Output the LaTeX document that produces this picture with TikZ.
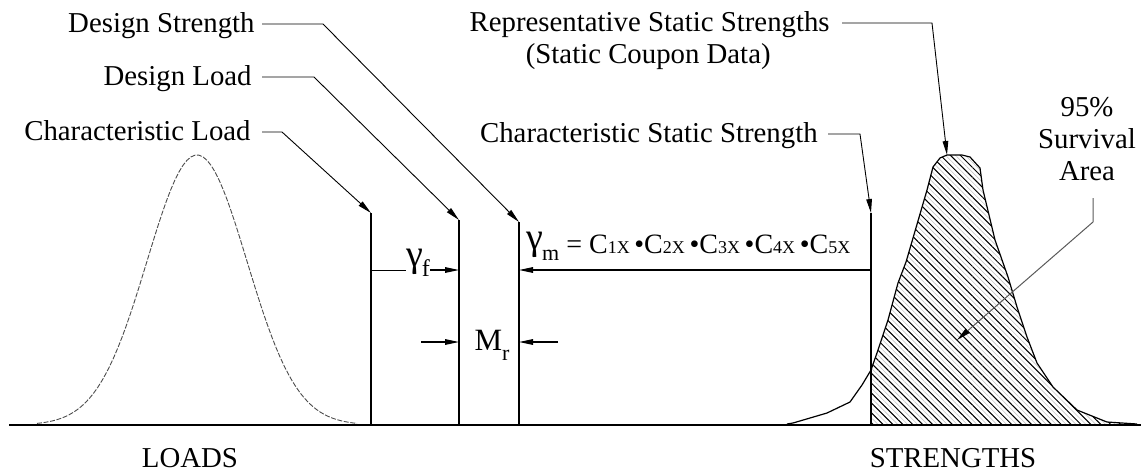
\documentclass[tikz,border=0pt]{standalone}
\usepackage{fontspec}
\setmainfont{Liberation Serif}
\usetikzlibrary{arrows.meta,patterns.meta}
\newcommand\Cxx[1]{C{\fontsize{9}{10}\selectfont #1X}}
\begin{document}
\begin{tikzpicture}[x=0.5pt,y=-0.5pt,
  lbl/.style={font=\fontsize{14.4}{16}\selectfont, inner sep=0pt},
  tip/.style={-{Triangle[length=7pt,width=2.8pt,color=black,fill=black]}},
  leader/.style={line width=0.45pt, tip},
  vline/.style={line width=0.6pt},
  arr/.style={line width=0.6pt, tip},
]
\useasboundingbox (0,0) rectangle (1141,472);

% labels
\node[lbl,anchor=base east] (ds) at (255,32) {Design Strength};
\node[lbl,anchor=base east] (dl) at (252,85) {Design Load};
\node[lbl,anchor=base east] (cl) at (251,140) {Characteristic Load};
\node[lbl,anchor=base east] (rep) at (830,31) {Representative Static Strengths};
\node[lbl,anchor=base east] (cpn) at (771,63) {(Static Coupon Data)};
\node[lbl,anchor=base east] (css) at (818,142) {Characteristic Static Strength};
\node[lbl,anchor=base] (loads) at (190,467) {LOADS};
\node[lbl,anchor=base] (str) at (953,467) {STRENGTHS};
\node[lbl,anchor=north,align=center] (sa) at (1087,97) {95\%\\Survival\\Area};

% vertical lines
\coordinate (clT) at (371,213); \coordinate (clB) at (371,425);
\coordinate (dlT) at (459,220); \coordinate (dlB) at (459,425);
\coordinate (dsT) at (519,222); \coordinate (dsB) at (519,425);
\coordinate (csT) at (871,213); \coordinate (csB) at (871,425);
\coordinate (peak) at (947,155);

% base line
\coordinate (b0) at (9,425); \coordinate (b1) at (1141,425);

% hatched 95% area
\path[pattern={Lines[angle=-45,distance=1.75pt,line width=0.3pt]},pattern color=gray!45]
  (871,425) -- (871,370) -- (878,350) -- (888,320) -- (898,283) -- (906,262) -- (913,238)
  -- (927,190) -- (933,167) -- (940,158) -- (947,155) -- (962,155) -- (970,157) -- (980,168)
  -- (983,190) -- (995,240) -- (1008,277) -- (1017,307) -- (1027,337) -- (1037,363)
  -- (1053,387) -- (1077,410) -- (1107,422) -- (1137,424) -- (1137,425) -- cycle;
\path[pattern={Lines[angle=-45,distance=3.5pt,line width=0.5pt]},pattern color=black]
  (871,425) -- (871,370) -- (878,350) -- (888,320) -- (898,283) -- (906,262) -- (913,238)
  -- (927,190) -- (933,167) -- (940,158) -- (947,155) -- (962,155) -- (970,157) -- (980,168)
  -- (983,190) -- (995,240) -- (1008,277) -- (1017,307) -- (1027,337) -- (1037,363)
  -- (1053,387) -- (1077,410) -- (1107,422) -- (1137,424) -- (1137,425) -- cycle;

% strength curve
\draw[line width=0.6pt] (787,424) -- (793,423) -- (827,413) -- (850,402) -- (862,385) -- (871,370)
  -- (878,350) -- (888,320) -- (898,283) -- (906,262) -- (913,238)
  -- (927,190) -- (933,167) -- (940,158) -- (947,155) -- (962,155) -- (970,157) -- (980,168)
  -- (983,190) -- (995,240) -- (1008,277) -- (1017,307) -- (1027,337) -- (1037,363)
  -- (1053,387) -- (1077,410) -- (1107,422) -- (1137,424);

% loads curve
\draw[gray!60!black, line width=0.45pt, dash pattern=on 2.5pt off 0.8pt]
  plot[domain=37:357, samples=80] (\x, {425-270*exp(-0.5*((\x-197)/50)^2)});

\draw[line width=0.9pt] (b0) -- (b1);

% leaders
\draw[leader] ([shift={(11,-8)}]cl.base east) -- ++(20,0) -- (clT);
\draw[leader] ([shift={(10,-8)}]dl.base east) -- ++(52,0) -- (dlT);
\draw[leader] ([shift={(7,-8)}]ds.base east) -- ++(61,0) -- (dsT);
\draw[leader] ([shift={(12,-8)}]rep.base east) -- ++(90,0) -- (peak);
\draw[leader] ([shift={(10,-8)}]css.base east) -- ++(32,0) -- (csT);

\draw[vline] (clT) -- (clB);
\draw[vline] (dlT) -- (dlB);
\draw[vline] (dsT) -- (dsB);
\draw[vline] (csT) -- (csB);

% gamma_m
\node[lbl,font=\fontsize{14}{16}\selectfont,anchor=base west] (gm) at (526,253)
  {{\fontsize{19}{19}\selectfont\raisebox{2pt}{γ}}\kern-0.5pt\raisebox{-3.5pt}{\fontsize{11}{11}\selectfont m} = \Cxx1\,•\Cxx2\,•\Cxx3\,•\Cxx4\,•\Cxx5};
\draw[arr] (csT |- 0,270) -- (dsT |- 0,270);

% gamma_f
\node[lbl] (gf) at (418,263) {{\fontsize{19}{19}\selectfont γ}\kern-0.5pt\raisebox{-5pt}{\fontsize{12}{12}\selectfont f}};
\draw[line width=0.5pt] (clT |- 0,270) -- (gf.west |- 0,270);
\draw[arr] (gf.east |- 0,270) -- (dlT |- 0,270);

% M_r
\node[lbl] (mr) at (492,345) {{\fontsize{15.5}{15.5}\selectfont M}\raisebox{-5pt}{\fontsize{11}{11}\selectfont r}};
\coordinate (mrL) at (421,342); \coordinate (mrR) at (558,342);
\draw[arr] (mrL) -- (dlT |- mrL);
\draw[arr] (mrR) -- (dsT |- mrR);

% 95% leader
\coordinate (saL) at (1093,198);
\draw[gray!70!black, line width=0.5pt, tip] (saL) -- (1093,222) -- (957,340);
\end{tikzpicture}
\end{document}
